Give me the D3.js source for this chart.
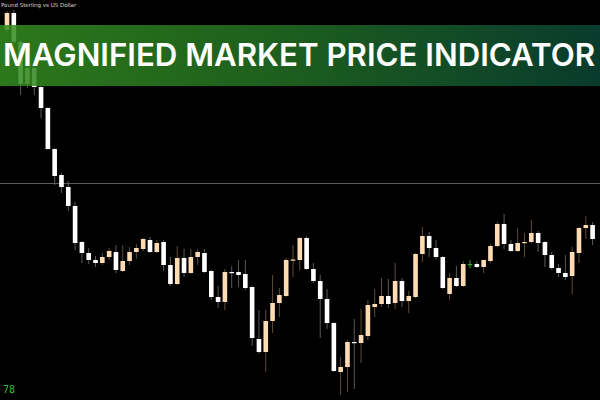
<!DOCTYPE html>
<html>
	<head>
		<meta charset="UTF-8" />
		<title>Magnified Market Price Indicator</title>
		<script src="https://cdn.jsdelivr.net/npm/d3@7"></script>
		<style>
			body {
				margin: 0;
				background: #000;
			}
			svg {
				display: block;
				width: 600px;
				height: 400px;
				background: #000;
			}
		</style>
	</head>
	<body>
		<svg></svg>

		<script>
			// GBPUSD candles (left to right)
			const opens = [
				1.297, 1.2987, 1.2958, 1.2916, 1.2932, 1.2913, 1.2892, 1.2851, 1.2825, 1.2813,
				1.2794, 1.2758, 1.2747, 1.274, 1.2737, 1.2743, 1.2748, 1.2729, 1.2739, 1.2748,
				1.2751, 1.276, 1.2748, 1.2758, 1.2735, 1.2716, 1.2742, 1.2727, 1.2743, 1.2747,
				1.2729, 1.2703, 1.2698, 1.2728, 1.2728, 1.2726, 1.2713, 1.2661, 1.2648, 1.2679,
				1.2697, 1.2704, 1.274, 1.274, 1.2762, 1.2731, 1.2719, 1.2701, 1.2677, 1.2628,
				1.2633, 1.2658, 1.2657, 1.2664, 1.2693, 1.2696, 1.2704, 1.2697, 1.2719, 1.2699,
				1.2703, 1.2746, 1.2764, 1.2752, 1.2743, 1.2706, 1.2722, 1.2714, 1.2736, 1.2736,
				1.2733, 1.2739, 1.2754, 1.2776, 1.2756, 1.2749, 1.27575, 1.2758, 1.2767, 1.2758,
				1.2745, 1.2732, 1.2727, 1.2724, 1.2747, 1.2772, 1.2775,
			];
			const highs = [
				1.2989, 1.299, 1.296, 1.2938, 1.2936, 1.2914, 1.2893, 1.2852, 1.2827, 1.2819,
				1.2798, 1.2759, 1.2752, 1.2744, 1.2747, 1.2752, 1.2755, 1.2755, 1.2753, 1.2756,
				1.2762, 1.2763, 1.276, 1.276, 1.2743, 1.2754, 1.2751, 1.2751, 1.2751, 1.2751,
				1.273, 1.2714, 1.2731, 1.2734, 1.274, 1.274, 1.2714, 1.269, 1.269, 1.2725,
				1.2712, 1.2742, 1.2755, 1.2763, 1.2764, 1.2737, 1.2725, 1.2711, 1.2678, 1.2643,
				1.266, 1.2681, 1.2691, 1.27, 1.2711, 1.2722, 1.2721, 1.2737, 1.2722, 1.2709,
				1.2747, 1.2773, 1.2768, 1.276, 1.2744, 1.2727, 1.2734, 1.2739, 1.274, 1.2739,
				1.274, 1.2756, 1.2778, 1.2786, 1.276, 1.2772, 1.2767, 1.278, 1.2769, 1.2759,
				1.2748, 1.2736, 1.2745, 1.2753, 1.2773, 1.2784, 1.2778,
			];
			const lows = [
				1.2967, 1.2955, 1.2905, 1.2912, 1.2905, 1.2882, 1.285, 1.2815, 1.2807, 1.2789,
				1.275, 1.2737, 1.2736, 1.2733, 1.2735, 1.274, 1.2727, 1.2728, 1.2735, 1.2741,
				1.2749, 1.2747, 1.2747, 1.2729, 1.2714, 1.2715, 1.2723, 1.2726, 1.2735, 1.2727,
				1.27, 1.2692, 1.269, 1.2712, 1.2713, 1.271, 1.2654, 1.2646, 1.2628, 1.2667,
				1.2683, 1.2703, 1.2723, 1.273, 1.273, 1.2717, 1.2662, 1.2671, 1.2628, 1.2605,
				1.2608, 1.2611, 1.2637, 1.266, 1.2683, 1.2693, 1.2692, 1.2691, 1.2693, 1.2687,
				1.2702, 1.2738, 1.2743, 1.2741, 1.2711, 1.27, 1.2713, 1.2713, 1.2732, 1.2732,
				1.2727, 1.2737, 1.2753, 1.2751, 1.2748, 1.2748, 1.2743, 1.2757, 1.2748, 1.2733,
				1.273, 1.2723, 1.272, 1.2706, 1.2737, 1.2761, 1.2755,
			];
			const closes = [
				1.2987, 1.2958, 1.2916, 1.2932, 1.2913, 1.2892, 1.2851, 1.2824, 1.2813, 1.2794,
				1.2757, 1.2747, 1.274, 1.2737, 1.2743, 1.2749, 1.273, 1.2739, 1.2748, 1.2752,
				1.2761, 1.2748, 1.2757, 1.2735, 1.2716, 1.2742, 1.2727, 1.2743, 1.2748, 1.2728,
				1.2703, 1.2698, 1.2728, 1.27275, 1.2725, 1.2712, 1.2662, 1.2648, 1.2679, 1.2697,
				1.2705, 1.274, 1.27405, 1.2762, 1.2731, 1.2719, 1.2701, 1.2677, 1.2629, 1.2633,
				1.2658, 1.2657, 1.2665, 1.2695, 1.2696, 1.2704, 1.2696, 1.2719, 1.2699, 1.2704,
				1.2746, 1.2764, 1.2752, 1.2743, 1.2712, 1.2722, 1.2714, 1.2736, 1.2736, 1.2733,
				1.274, 1.2754, 1.2776, 1.2756, 1.2749, 1.2757, 1.2758, 1.2767, 1.2757, 1.2745,
				1.2732, 1.2727, 1.2723, 1.2748, 1.2772, 1.2775, 1.2761,
			];

			const gridLevel = 1.2817;
			const priceLabel = "78";
			const symbolName = "Pound Sterling vs US Dollar";
			const title = "MAGNIFIED MARKET PRICE INDICATOR";

			const data = opens.map((o, i) => ({
				i: i,
				open: o,
				high: highs[i],
				low: lows[i],
				close: closes[i],
			}));

			const svg = d3.select("svg");

			let x = d3.scaleLinear().domain([0, data.length - 1]).range([7, 592.6]);
			let y = d3.scaleLinear().domain([1.26, 1.3]).range([400, 0]);

			const bodyW = 4.6;
			const bodyColor = (d) =>
				d.close > d.open ? "#ffdbb4" : d.close < d.open ? "#ffffff" : "#22b022";
			const wickColor = (d) =>
				d.close > d.open ? "#614a36" : d.close < d.open ? "#5a5a5a" : "#22b022";

			// horizontal level line
			svg
				.append("line")
				.attr("x1", 0)
				.attr("x2", 600)
				.attr("y1", Math.round(y(gridLevel)) + 0.5)
				.attr("y2", Math.round(y(gridLevel)) + 0.5)
				.attr("stroke", "#5c5c5c")
				.attr("stroke-width", 1);

			let candles = svg.selectAll("g.candle").data(data).enter().append("g");

			// wicks
			candles
				.append("line")
				.attr("x1", (d) => x(d.i))
				.attr("x2", (d) => x(d.i))
				.attr("y1", (d) => y(d.high))
				.attr("y2", (d) => y(d.low))
				.attr("stroke", wickColor)
				.attr("stroke-width", 1);

			// bodies
			candles
				.append("rect")
				.attr("x", (d) => x(d.i) - bodyW / 2)
				.attr("y", (d) => y(Math.max(d.open, d.close)))
				.attr("width", bodyW)
				.attr("height", (d) =>
					Math.max(1.2, Math.abs(y(d.open) - y(d.close)))
				)
				.attr("fill", bodyColor);

			// symbol name, top left
			svg
				.append("text")
				.text(symbolName)
				.attr("x", 1)
				.attr("y", 7)
				.attr("fill", "#d8d8d8")
				.style("font-family", "DejaVu Sans, sans-serif")
				.style("font-size", "5.5px");

			// title banner
			let grad = svg
				.append("defs")
				.append("linearGradient")
				.attr("id", "banner")
				.attr("x1", "0%")
				.attr("x2", "100%");
			grad.append("stop").attr("offset", "0%").attr("stop-color", "#338c1f");
			grad.append("stop").attr("offset", "45%").attr("stop-color", "#236f22");
			grad.append("stop").attr("offset", "100%").attr("stop-color", "#0a4534");

			svg
				.append("rect")
				.attr("x", 0)
				.attr("y", 25)
				.attr("width", 600)
				.attr("height", 61)
				.attr("fill", "url(#banner)")
				.attr("fill-opacity", 0.86);

			svg
				.append("text")
				.text(title)
				.attr("x", 3)
				.attr("y", 66)
				.attr("textLength", 592)
				.attr("lengthAdjust", "spacingAndGlyphs")
				.attr("fill", "#fff")
				.style("font-family", "Inter, Lato, sans-serif")
				.style("font-weight", 600)
				.style("font-size", "31px");

			// price label, bottom left
			svg
				.append("text")
				.text(priceLabel)
				.attr("x", 3)
				.attr("y", 393)
				.attr("fill", "#2fbf2f")
				.style("font-family", "DejaVu Sans Mono, monospace")
				.style("font-size", "10px");
		</script>
	</body>
</html>
